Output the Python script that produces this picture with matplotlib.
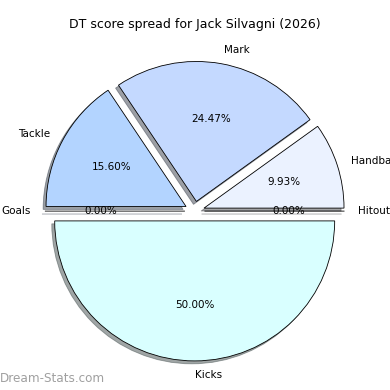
import matplotlib
matplotlib.use("Agg")
import matplotlib.pyplot as plt

# Score breakdown (percent of DT score)
categories = ['Kicks', 'Hitout', 'Handball', 'Mark', 'Tackle', 'Goals']
values = [50.00, 0.00, 9.93, 24.47, 15.60, 0.00]
colours = ['#d9ffff', '#eef4ff', '#ebf2ff', '#c4d9ff', '#b3d4ff', '#b0d0ff']

fig = plt.figure(figsize=(5.2, 5.2), dpi=75)
ax = fig.add_axes([0.0505, 0.01, 0.8974, 0.8974])

ax.pie(values, labels=categories, colors=colours, autopct='%1.2f%%',
       startangle=180, explode=[0.07] * len(values), shadow=True,
       wedgeprops={'edgecolor': 'black', 'linewidth': 0.8})
ax.set_aspect('equal')
ax.set_title('DT score spread for Jack Silvagni (2026)', pad=8)

fig.text(0.0, 0.012, 'Dream-Stats.com', color='#a0a0a0', fontsize=11.5,
         ha='left', va='bottom')

fig.savefig('out.png', dpi=75)
